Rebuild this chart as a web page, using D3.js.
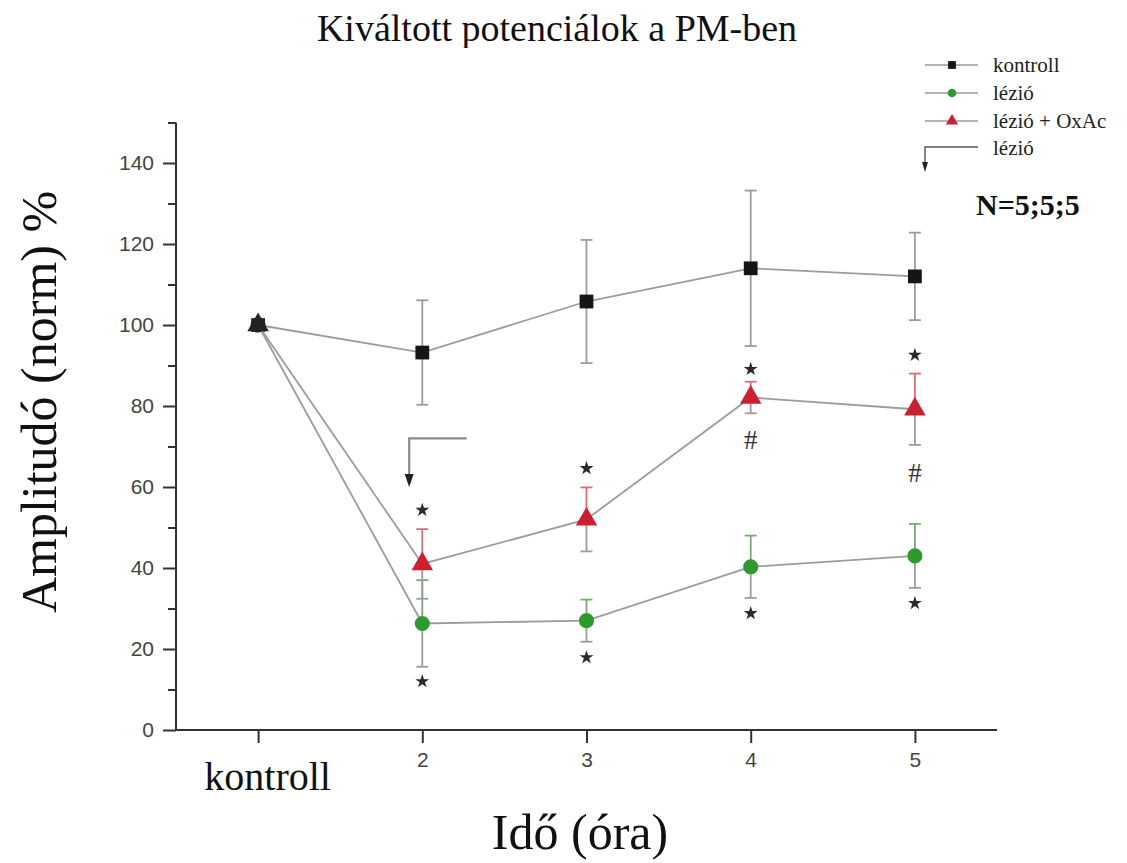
<!DOCTYPE html>
<html>
<head>
<meta charset="utf-8">
<script src="https://cdn.jsdelivr.net/npm/d3@7"></script>
<style>
  body { margin: 0; background: #fff; }
  svg { display: block; }
</style>
</head>
<body>
<svg id="chart" width="1127" height="863"></svg>
<script>
// time points (x) and their tick labels
const timePoints = [1, 2, 3, 4, 5];
const xTickLabels = ["kontroll", "2", "3", "4", "5"];

// amplitude (normalised %) means and SEM per series
const kontrollMean = [100, 93.2, 105.8, 114, 112];
const kontrollErr = [0, 12.9, 15.2, 19.2, 10.8];
const lezioMean = [100, 26.3, 27, 40.3, 43];
const lezioErr = [0, 10.7, 5.2, 7.7, 7.9];
const oxacMean = [100, 41, 52, 82.1, 79.2];
const oxacErr = [0, 8.6, 7.9, 3.9, 8.8];

// significance marks
const starX = [2, 2, 3, 3, 4, 4, 5, 5];
const starY = [54.3, 12, 64.6, 17.9, 89.1, 28.8, 92.6, 31.3];
const hashX = [4, 5];
const hashY = [71.6, 63.4];

// lesion arrow: horizontal start, corner, tip
const lesionArrowX = [2.27, 1.92, 1.92];
const lesionArrowY = [72, 72, 60];

const yTicks = [0, 20, 40, 60, 80, 100, 120, 140];
const yMinorTicks = [10, 30, 50, 70, 90, 110, 130, 150];

const svg = d3.select("#chart");

const x = d3.scaleLinear().domain([0.5, 5.5]).range([176, 997]);
const y = d3.scaleLinear().domain([0, 150]).range([730, 122.5]);

const serif = "'Liberation Serif', 'Times New Roman', serif";
const sans = "'Liberation Sans', Arial, sans-serif";
const lineGrey = "#9c9c9c";

// title (bottom of it is cut off in the original)
svg.append("clipPath").attr("id", "titleClip")
  .append("rect").attr("x", 0).attr("y", 0).attr("width", 1127).attr("height", 48);
svg.append("text")
  .attr("clip-path", "url(#titleClip)")
  .attr("x", 557).attr("y", 41)
  .attr("text-anchor", "middle")
  .style("font-family", serif).style("font-size", "38px").style("fill", "#111")
  .text("Kiváltott potenciálok a PM-ben");

// axes
const yAxis = svg.append("g")
  .attr("transform", "translate(176,0)")
  .call(d3.axisLeft(y).tickValues(yTicks).tickSize(13).tickPadding(9));
yAxis.select(".domain").attr("d", `M0,${y(150)}V${y(0)}`);

svg.append("g")
  .attr("transform", "translate(176,0)")
  .call(d3.axisLeft(y).tickValues(yMinorTicks).tickSize(8).tickFormat(""))
  .call(g => g.select(".domain").remove());

const xAxis = svg.append("g")
  .attr("transform", `translate(0,${y(0)})`)
  .call(d3.axisBottom(x).tickValues(timePoints).tickSize(13).tickPadding(9)
    .tickFormat((d, i) => xTickLabels[i]));
xAxis.select(".domain").attr("d", `M${x(0.5)},0H${x(5.5)}`);

svg.selectAll(".tick line, .domain")
  .attr("stroke", "#333").attr("stroke-width", 2);
svg.selectAll(".tick text")
  .style("font-family", sans).style("font-size", "21px").style("fill", "#444");

xAxis.selectAll(".tick text")
  .filter((d, i) => i === 0)
  .attr("dx", 9).attr("dy", "0.95em")
  .style("font-family", serif).style("font-size", "40px").style("fill", "#111");

// axis titles
svg.append("text")
  .attr("transform", "translate(56,402) rotate(-90)")
  .attr("text-anchor", "middle")
  .style("font-family", serif).style("font-size", "50px").style("fill", "#111")
  .text("Amplitudó (norm) %");

svg.append("text")
  .attr("x", 580).attr("y", 849)
  .attr("text-anchor", "middle")
  .style("font-family", serif).style("font-size", "50px").style("fill", "#111")
  .text("Idő (óra)");

// series
const series = [
  { name: "lézió", mean: lezioMean, err: lezioErr, color: "#2e9a2e", errUp: "#7aa87a", shape: d3.symbolCircle, size: 180 },
  { name: "kontroll", mean: kontrollMean, err: kontrollErr, color: "#151515", errUp: lineGrey, shape: d3.symbolSquare, size: 190 },
  { name: "lézió + OxAc", mean: oxacMean, err: oxacErr, color: "#cc1f30", errUp: "#d0707a", shape: d3.symbolTriangle, size: 200 }
];

const line = d3.line().x(d => x(d.t)).y(d => y(d.v));

series.forEach(s => {
  const pts = timePoints.map((t, i) => ({ t, v: s.mean[i], e: s.err[i] }));
  const g = svg.append("g");

  g.append("path")
    .datum(pts)
    .attr("d", line)
    .attr("fill", "none")
    .attr("stroke", lineGrey)
    .attr("stroke-width", 1.8);

  const bars = g.selectAll(".err").data(pts.filter(d => d.e > 0)).enter().append("g");
  bars.append("line")
    .attr("x1", d => x(d.t)).attr("x2", d => x(d.t))
    .attr("y1", d => y(d.v)).attr("y2", d => y(d.v - d.e))
    .attr("stroke", lineGrey).attr("stroke-width", 1.8);
  bars.append("line")
    .attr("x1", d => x(d.t)).attr("x2", d => x(d.t))
    .attr("y1", d => y(d.v)).attr("y2", d => y(d.v + d.e))
    .attr("stroke", s.errUp).attr("stroke-width", 1.8);
  bars.append("line")
    .attr("x1", d => x(d.t) - 6).attr("x2", d => x(d.t) + 6)
    .attr("y1", d => y(d.v + d.e)).attr("y2", d => y(d.v + d.e))
    .attr("stroke", s.errUp).attr("stroke-width", 1.8);
  bars.append("line")
    .attr("x1", d => x(d.t) - 6).attr("x2", d => x(d.t) + 6)
    .attr("y1", d => y(d.v - d.e)).attr("y2", d => y(d.v - d.e))
    .attr("stroke", lineGrey).attr("stroke-width", 1.8);

  g.selectAll(".pt").data(pts).enter().append("path")
    .attr("transform", d => `translate(${x(d.t)},${y(d.v)})`)
    .attr("d", d3.symbol().type(s.shape).size(s.size))
    .attr("fill", d => d.t === 1 ? "#222" : s.color);
});

// significance stars and hashes
svg.append("g").selectAll("path")
  .data(starX.map((t, i) => ({ t, v: starY[i] })))
  .enter().append("path")
  .attr("transform", d => `translate(${x(d.t)},${y(d.v)})`)
  .attr("d", d3.symbol().type(d3.symbolStar).size(60))
  .attr("fill", "#2a2a2a");

svg.append("g").selectAll("text")
  .data(hashX.map((t, i) => ({ t, v: hashY[i] })))
  .enter().append("text")
  .attr("x", d => x(d.t)).attr("y", d => y(d.v))
  .attr("text-anchor", "middle").attr("dominant-baseline", "central")
  .style("font-family", serif).style("font-size", "27px").style("fill", "#333")
  .text("#");

// lesion onset arrow
const arrowPts = lesionArrowX.map((t, i) => [x(t), y(lesionArrowY[i])]);
svg.append("path")
  .attr("d", d3.line()(arrowPts.slice(0, 2).concat([[arrowPts[2][0], arrowPts[2][1] - 12]])))
  .attr("fill", "none").attr("stroke", "#8a8a8a").attr("stroke-width", 2.2);
svg.append("path")
  .attr("d", `M${arrowPts[2][0] - 4.5},${arrowPts[2][1] - 13}L${arrowPts[2][0] + 4.5},${arrowPts[2][1] - 13}L${arrowPts[2][0]},${arrowPts[2][1]}Z`)
  .attr("fill", "#222");

// legend
const legend = svg.append("g").attr("transform", "translate(925,65)");
const legendRows = [series[1], series[0], series[2]];
legendRows.forEach((s, i) => {
  const row = legend.append("g").attr("transform", `translate(0,${i * 28})`);
  row.append("line").attr("x1", 0).attr("x2", 53)
    .attr("stroke", lineGrey).attr("stroke-width", 1.4);
  row.append("path")
    .attr("transform", "translate(27,0)")
    .attr("d", d3.symbol().type(s.shape).size(s.size * 0.32))
    .attr("fill", s.color);
  row.append("text")
    .attr("x", 68).attr("y", 7)
    .style("font-family", serif).style("font-size", "21px").style("fill", "#222")
    .text(s.name);
});
const arrowRow = legend.append("g").attr("transform", "translate(0,82)");
arrowRow.append("path")
  .attr("d", "M53,0H0V17")
  .attr("fill", "none").attr("stroke", "#555").attr("stroke-width", 1.4);
arrowRow.append("path")
  .attr("d", "M-3,15L3,15L0,25Z").attr("fill", "#222");
arrowRow.append("text")
  .attr("x", 68).attr("y", 8)
  .style("font-family", serif).style("font-size", "21px").style("fill", "#222")
  .text("lézió");

svg.append("text")
  .attr("x", 976).attr("y", 215)
  .style("font-family", serif).style("font-size", "30px").style("font-weight", "bold").style("fill", "#111")
  .text("N=5;5;5");
</script>
</body>
</html>
